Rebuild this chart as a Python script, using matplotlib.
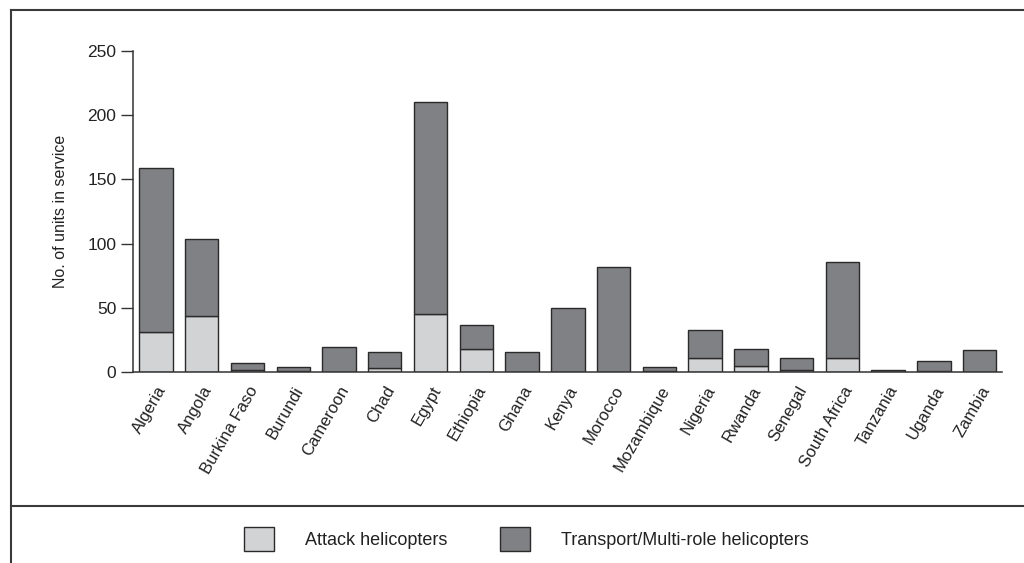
import matplotlib
matplotlib.use('Agg')
import matplotlib.pyplot as plt
from matplotlib.lines import Line2D
from matplotlib.patches import Patch
import numpy as np

plt.rcParams['font.family'] = ['Liberation Sans', 'DejaVu Sans']

countries = ["Algeria", "Angola", "Burkina Faso", "Burundi", "Cameroon", "Chad",
             "Egypt", "Ethiopia", "Ghana", "Kenya", "Morocco", "Mozambique",
             "Nigeria", "Rwanda", "Senegal", "South Africa", "Tanzania",
             "Uganda", "Zambia"]
attack = [31, 44, 2, 1, 0, 3, 45, 18, 0, 0, 0, 1, 11, 5, 2, 11, 0, 1, 0]
transport = [128, 60, 5, 3, 20, 13, 165, 19, 16, 50, 82, 3, 22, 13, 9, 75, 2, 8, 17]

C_ATTACK = "#d2d3d5"
C_TRANSPORT = "#808184"
C_EDGE = "#2a2a2a"

fig = plt.figure(figsize=(10.24, 5.63), dpi=100)
ax = fig.add_axes([0.130, 0.3387, 0.849, 0.5713])

x = np.arange(len(countries))
attack = np.array(attack)
transport = np.array(transport)
ax.bar(x, attack, width=0.73, color=C_ATTACK, edgecolor=C_EDGE, linewidth=1.0)
ax.bar(x, transport, width=0.73, bottom=attack, color=C_TRANSPORT, edgecolor=C_EDGE, linewidth=1.0)

ax.set_xlim(-0.5, len(countries) - 0.5)
ax.set_ylim(0, 250)
ax.set_yticks([0, 50, 100, 150, 200, 250])
ax.tick_params(axis='y', direction='out', length=9, width=1, color="#333333",
               labelsize=12.5, pad=3, labelcolor="#222222")
ax.set_xticks(x)
ax.set_xticklabels(countries, rotation=60, ha='right', rotation_mode='anchor',
                   fontsize=12, color="#222222")
ax.tick_params(axis='x', length=0, pad=8)
ax.set_ylabel("No. of units in service", fontsize=11.5, color="#222222", labelpad=14)

ax.spines["top"].set_visible(False)
ax.spines["right"].set_visible(False)
for s in ("left", "bottom"):
    ax.spines[s].set_color("#333333")
    ax.spines[s].set_linewidth(1.1)

# outer frame and legend separator
lc = "#3a3a3a"
fig.add_artist(Line2D([0.0107, 1.0], [0.982, 0.982], color=lc, lw=1.5, transform=fig.transFigure))
fig.add_artist(Line2D([0.0107, 0.0107], [0.982, 0.0], color=lc, lw=1.5, transform=fig.transFigure))
fig.add_artist(Line2D([0.0107, 1.0], [0.101, 0.101], color=lc, lw=1.5, transform=fig.transFigure))

handles = [Patch(facecolor=C_ATTACK, edgecolor=C_EDGE, linewidth=1.0),
           Patch(facecolor=C_TRANSPORT, edgecolor=C_EDGE, linewidth=1.0)]
fig.legend(handles, ["Attack helicopters", "Transport/Multi-role helicopters"],
           loc="center", bbox_to_anchor=(0.514, 0.043), ncol=2, frameon=False,
           fontsize=13, handlelength=1.66, handleheight=1.66, handletextpad=1.72,
           columnspacing=2.9, labelcolor="#222222")

fig.savefig("out.png", dpi=100)
